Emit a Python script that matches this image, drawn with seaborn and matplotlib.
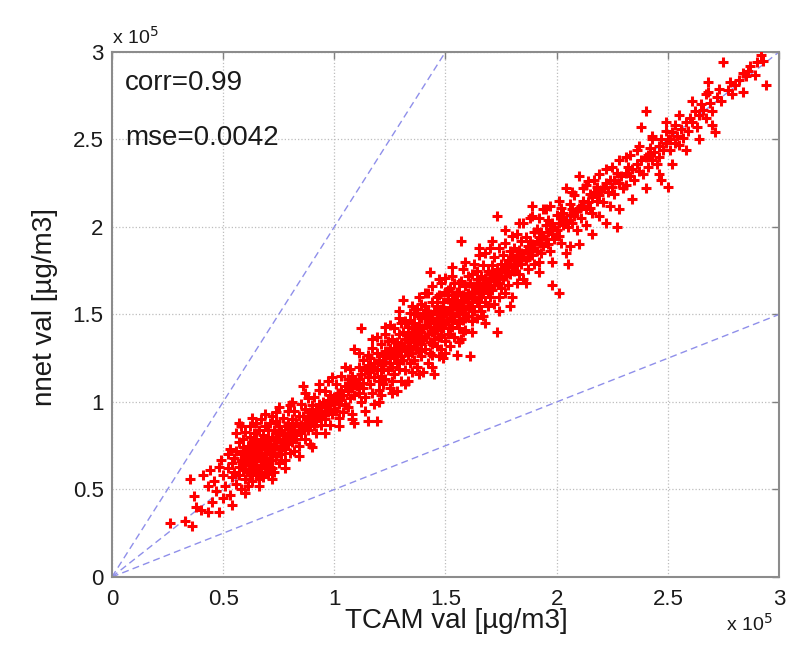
import matplotlib
matplotlib.use("Agg")
import matplotlib.pyplot as plt
import seaborn as sns
import pandas as pd
from matplotlib.ticker import FuncFormatter

# ---- data (values in units of 1e5 ug/m3) ----
seg_a = [(0.26,0.31),(0.33,0.32),(0.36,0.29),(0.35,0.56),(0.37,0.46),(0.38,0.40),(0.40,0.38),
         (0.41,0.58),(0.43,0.37),(0.43,0.52),(0.44,0.61),(0.45,0.43),(0.46,0.55),(0.47,0.49),
         (0.48,0.37),(0.48,0.63),(0.49,0.67),(0.50,0.45),(0.50,0.58),(0.51,0.52),(0.52,0.62),
         (0.52,0.70),(0.53,0.47),(0.53,0.73),(0.54,0.41),(0.54,0.57),(0.54,0.65)]
seg_b = [(0.55,0.60),(0.55,0.68),(0.56,0.82),(0.56,0.53),(0.56,0.72),(0.57,0.63),(0.57,0.77),
         (0.57,0.58),(0.58,0.66),(0.58,0.70),(0.58,0.50),(0.58,0.86),(0.59,0.61),(0.59,0.74),
         (0.59,0.79),(0.59,0.67),(0.60,0.56),(0.60,0.71),(0.60,0.64),(0.60,0.83),
         (0.61,0.60),(0.61,0.68),(0.61,0.75),(0.61,0.52),(0.62,0.65),(0.62,0.72),(0.62,0.80),
         (0.62,0.58),(0.62,0.86),(0.63,0.63),(0.63,0.69),(0.63,0.77),(0.63,0.55),(0.63,0.73),
         (0.64,0.61),(0.64,0.67),(0.64,0.82),(0.64,0.70),(0.64,0.76),(0.65,0.58),(0.65,0.64),
         (0.65,0.88),(0.65,0.72),(0.65,0.79),(0.65,0.68),
         (0.66,0.62),(0.66,0.70),(0.66,0.75),(0.66,0.84),(0.66,0.56),(0.67,0.66),(0.67,0.73),
         (0.67,0.90),(0.67,0.60),(0.67,0.78),(0.68,0.69),(0.68,0.64),(0.68,0.81),(0.68,0.75),
         (0.68,0.57),(0.69,0.71),(0.69,0.67),(0.69,0.86),(0.69,0.62),(0.69,0.77),(0.70,0.73),
         (0.70,0.80),(0.70,0.66),(0.70,0.59),(0.70,0.84)]
seg_c = [(0.71,0.70),(0.71,0.76),(0.71,0.63),(0.71,0.88),(0.72,0.74),(0.72,0.80),(0.72,0.67),
         (0.72,0.92),(0.73,0.71),(0.73,0.78),(0.73,0.84),(0.73,0.60),(0.74,0.75),(0.74,0.69),
         (0.74,0.82),(0.74,0.89),(0.75,0.73),(0.75,0.79),(0.75,0.65),(0.75,0.86),(0.72,0.62),
         (0.74,0.94),
         (0.76,0.77),(0.76,0.84),(0.76,0.70),(0.77,0.81),(0.77,0.74),(0.77,0.91),(0.78,0.79),
         (0.78,0.86),(0.78,0.67),(0.78,0.73),(0.79,0.82),(0.79,0.76),(0.79,0.95),(0.79,0.88),
         (0.80,0.80),(0.80,0.71),(0.80,0.85),(0.80,0.98),
         (0.81,0.83),(0.81,0.77),(0.81,0.90),(0.82,0.86),(0.82,0.72),(0.82,0.95),(0.83,0.81),
         (0.83,0.88),(0.83,0.79),(0.84,0.92),(0.84,0.84),(0.84,0.75),(0.85,0.87),(0.85,0.99),
         (0.85,0.82),
         (0.86,0.85),(0.86,0.92),(0.86,1.09),(0.87,0.88),(0.87,0.79),(0.87,0.96),(0.88,0.91),
         (0.88,0.84),(0.88,1.02),(0.89,0.87),(0.89,0.94),(0.89,0.76),(0.90,0.90),(0.90,0.98),
         (0.91,0.93),(0.91,0.86),(0.91,1.03),(0.92,0.96),(0.92,0.89),(0.92,0.82),(0.93,0.99),
         (0.93,0.92),(0.93,1.07),(0.94,0.95),(0.94,0.87),(0.95,1.00),(0.95,0.93),
         (0.96,0.97),(0.96,0.90),(0.96,1.06),(0.97,1.01),(0.97,0.94),(0.97,1.12),(0.98,0.98),
         (0.98,0.87),(0.98,1.04),(0.99,1.00),(0.99,0.93),(1.00,1.03),(1.00,0.96)]
seg_d = [(1.01,1.02),(1.01,0.95),(1.01,1.10),(1.02,1.05),(1.02,0.91),(1.02,0.99),(1.03,1.07),
         (1.03,1.15),(1.03,1.01),(1.04,1.04),(1.04,0.94),(1.05,1.09),(1.05,0.98),
         (1.06,1.06),(1.06,1.13),(1.06,0.97),(1.07,1.10),(1.07,1.02),(1.07,1.19),(1.08,1.08),
         (1.08,0.93),(1.08,1.15),(1.09,1.04),(1.09,1.12),(1.09,0.88),(1.09,1.30),(1.10,1.09),
         (1.11,1.13),(1.11,1.05),(1.11,1.20),(1.12,1.16),(1.12,1.42),(1.12,1.00),(1.13,1.11),
         (1.13,1.24),(1.13,1.08),(1.14,1.18),(1.14,1.03),(1.15,1.14),(1.15,0.89),(1.15,1.27),
         (1.15,1.21),
         (1.16,1.17),(1.16,1.10),(1.16,1.25),(1.17,1.20),(1.17,1.05),(1.17,1.31),(1.18,1.14),
         (1.18,1.22),(1.18,0.99),(1.19,1.18),(1.19,0.89),(1.19,1.28),(1.19,1.37),(1.20,1.12),
         (1.20,1.24),(1.20,1.07),
         (1.21,1.21),(1.21,1.15),(1.21,1.33),(1.21,1.04),(1.22,1.26),(1.22,1.19),(1.22,1.10),
         (1.23,1.29),(1.23,1.23),(1.23,1.39),(1.23,1.13),(1.24,1.27),(1.24,1.18),(1.24,1.35),
         (1.25,1.22),(1.25,1.08),(1.25,1.31),(1.25,1.44),
         (1.26,1.28),(1.26,1.20),(1.26,1.36),(1.26,1.12),(1.27,1.31),(1.27,1.25),(1.27,1.42),
         (1.27,1.16),(1.28,1.34),(1.28,1.27),(1.28,1.06),(1.28,1.22),(1.29,1.30),(1.29,1.39),
         (1.29,1.48),(1.29,1.19),(1.30,1.33),(1.30,1.26),(1.30,1.12),(1.30,1.45),
         (1.31,1.32),(1.31,1.24),(1.31,1.40),(1.31,1.58),(1.32,1.36),(1.32,1.29),(1.32,1.18),
         (1.32,1.46),(1.33,1.34),(1.33,1.27),(1.33,1.43),(1.33,1.12),(1.34,1.38),(1.34,1.31),
         (1.34,1.22),(1.34,1.51),(1.35,1.36),(1.35,1.42),(1.35,1.28),(1.35,1.17),(1.33,1.39),
         (1.34,1.47),
         (1.36,1.39),(1.36,1.32),(1.36,1.45),(1.36,1.24),(1.37,1.41),(1.37,1.35),(1.37,1.53),
         (1.37,1.20),(1.38,1.37),(1.38,1.44),(1.38,1.29),(1.38,1.60),(1.39,1.40),(1.39,1.33),
         (1.39,1.48),(1.39,1.26),(1.40,1.42),(1.40,1.36),(1.40,1.51),(1.40,1.17),(1.37,1.30),
         (1.38,1.49),(1.39,1.56),(1.36,1.50)]
seg_e = [(1.41,1.44),(1.41,1.37),(1.41,1.30),(1.41,1.55),(1.42,1.46),(1.42,1.39),(1.42,1.22),
         (1.42,1.62),(1.43,1.43),(1.43,1.50),(1.43,1.34),(1.43,1.74),(1.44,1.47),(1.44,1.40),
         (1.44,1.27),(1.44,1.57),(1.45,1.45),(1.45,1.52),(1.45,1.36),(1.45,1.16),(1.42,1.52),
         (1.43,1.28),(1.44,1.66),(1.45,1.41),(1.41,1.49),(1.44,1.33),
         (1.46,1.48),(1.46,1.41),(1.46,1.55),(1.46,1.32),(1.47,1.50),(1.47,1.44),(1.47,1.61),
         (1.47,1.26),(1.48,1.47),(1.48,1.53),(1.48,1.38),(1.48,1.68),(1.49,1.49),(1.49,1.42),
         (1.49,1.57),(1.49,1.25),(1.50,1.51),(1.50,1.45),(1.50,1.35),(1.50,1.63),(1.46,1.60),
         (1.47,1.37),(1.48,1.43),(1.49,1.54),(1.50,1.71),(1.48,1.30),
         (1.51,1.52),(1.51,1.46),(1.51,1.59),(1.51,1.39),(1.52,1.54),(1.52,1.48),(1.52,1.65),
         (1.52,1.32),(1.53,1.51),(1.53,1.57),(1.53,1.43),(1.53,1.72),(1.54,1.55),(1.54,1.49),
         (1.54,1.61),(1.54,1.37),(1.55,1.53),(1.55,1.58),(1.55,1.45),(1.55,1.27),(1.51,1.64),
         (1.52,1.42),(1.53,1.47),(1.54,1.68),(1.55,1.63),(1.53,1.61),
         (1.56,1.56),(1.56,1.50),(1.56,1.63),(1.56,1.42),(1.57,1.58),(1.57,1.52),(1.57,1.69),
         (1.57,1.36),(1.58,1.55),(1.58,1.61),(1.58,1.47),(1.58,1.76),(1.59,1.59),(1.59,1.53),
         (1.59,1.66),(1.59,1.41),(1.60,1.57),(1.60,1.62),(1.60,1.49),(1.60,1.72),(1.57,1.92),
         (1.56,1.68),(1.58,1.40),(1.59,1.48),
         (1.61,1.61),(1.61,1.55),(1.61,1.68),(1.61,1.26),(1.62,1.63),(1.62,1.57),(1.62,1.73),
         (1.62,1.46),(1.63,1.60),(1.63,1.66),(1.63,1.52),(1.63,1.79),(1.64,1.64),(1.64,1.58),
         (1.64,1.70),(1.64,1.48),(1.65,1.62),(1.65,1.67),(1.65,1.55),(1.65,1.84),(1.62,1.52),
         (1.64,1.75),
         (1.66,1.66),(1.66,1.60),(1.66,1.72),(1.66,1.52),(1.67,1.68),(1.67,1.62),(1.67,1.78),
         (1.67,1.49),(1.68,1.65),(1.68,1.71),(1.68,1.57),(1.68,1.85),(1.69,1.69),(1.69,1.63),
         (1.69,1.75),(1.69,1.55),(1.70,1.67),(1.70,1.73),(1.70,1.60),(1.70,1.88),
         (1.71,1.71),(1.71,1.64),(1.71,1.78),(1.72,1.73),(1.72,1.67),(1.72,1.83),(1.72,1.56),
         (1.73,1.70),(1.73,1.76),(1.73,1.40),(1.73,2.06),(1.74,1.74),(1.74,1.68),(1.74,1.88),
         (1.74,1.60),(1.75,1.72),(1.75,1.79),(1.75,1.65),
         (1.76,1.76),(1.76,1.70),(1.76,1.84),(1.77,1.78),(1.77,1.72),(1.77,1.62),(1.77,1.91),
         (1.78,1.75),(1.78,1.81),(1.78,1.67),(1.79,1.79),(1.79,1.86),(1.79,1.73),(1.79,1.55),
         (1.80,1.77),(1.80,1.83),(1.80,1.95)]
seg_f = [(1.81,1.81),(1.81,1.75),(1.81,1.88),(1.82,1.84),(1.82,1.78),(1.82,1.68),(1.82,1.96),
         (1.83,1.82),(1.83,1.87),(1.83,1.73),(1.84,1.85),(1.84,1.92),(1.84,1.79),(1.85,1.83),
         (1.85,2.02),(1.85,1.70),
         (1.86,1.87),(1.86,1.81),(1.86,1.94),(1.87,1.89),(1.87,1.83),(1.87,1.76),(1.88,1.86),
         (1.88,1.92),(1.88,2.05),(1.89,1.90),(1.89,1.84),(1.89,2.12),(1.90,1.88),(1.90,1.97),
         (1.90,1.79),
         (1.91,1.92),(1.91,1.86),(1.91,1.99),(1.92,1.94),(1.92,1.80),(1.92,2.05),(1.93,1.91),
         (1.93,1.97),(1.93,1.85),(1.94,1.95),(1.94,2.10),(1.94,1.89),(1.95,1.93),(1.95,2.01),
         (1.96,1.97),(1.96,1.90),(1.96,2.04),(1.97,1.99),(1.97,1.86),(1.97,2.12),(1.98,1.96),
         (1.98,1.67),(1.98,2.02),(1.99,2.00),(1.99,1.93),(2.00,1.98),(2.00,2.07),
         (2.01,2.02),(2.01,1.62),(2.01,1.95),(2.02,2.05),(2.02,2.11),(2.02,1.91),(2.03,2.01),
         (2.03,2.08),(2.04,2.04),(2.04,2.22),(2.05,1.79),(2.05,2.00),
         (2.06,2.07),(2.06,1.89),(2.06,2.13),(2.07,2.10),(2.07,2.02),(2.08,2.06),(2.08,2.18),
         (2.09,2.09),(2.09,1.98),(2.10,2.29),(2.10,2.11),
         (2.11,2.12),(2.11,2.05),(2.12,2.15),(2.12,2.22),(2.13,2.10),(2.13,2.01),(2.14,2.14),
         (2.14,2.26),(2.15,2.11),(2.15,2.19),
         (2.16,2.17),(2.16,2.08),(2.17,2.20),(2.17,2.27),(2.18,2.15),(2.18,2.23),(2.19,2.18),
         (2.19,2.06),(2.20,2.21),
         (2.21,2.22),(2.21,2.14),(2.22,2.25),(2.22,2.33),(2.23,2.20),(2.24,2.27),(2.24,2.12),
         (2.25,2.23),
         (2.26,2.27),(2.26,2.19),(2.27,2.00),(2.27,2.31),(2.28,2.25),(2.28,2.38),(2.29,2.29),
         (2.30,2.22)]
seg_g = [(2.31,2.31),(2.31,2.24),(2.32,2.34),(2.33,2.29),(2.33,2.41),(2.34,2.33),(2.35,2.27),
         (2.36,2.36),(2.36,2.44),(2.37,2.32),(2.38,2.57),(2.38,2.38),(2.39,2.30),(2.40,2.66),
         (2.40,2.40),
         (2.41,2.41),(2.41,2.34),(2.42,2.45),(2.43,2.38),(2.43,2.50),(2.44,2.43),(2.45,2.36),
         (2.46,2.46),(2.46,2.40),(2.47,2.27),(2.47,2.50),(2.48,2.44),(2.49,2.55),(2.49,2.48),
         (2.50,2.23),(2.50,2.50),
         (2.51,2.50),(2.51,2.44),(2.52,2.54),(2.53,2.48),(2.53,2.58),(2.54,2.52),(2.55,2.47),
         (2.56,2.56),(2.57,2.51),(2.58,2.60),(2.59,2.55),(2.60,2.62),
         (2.61,2.60),(2.62,2.66),(2.63,2.57),(2.64,2.64),(2.65,2.70),
         (2.66,2.67),(2.67,2.62),(2.68,2.77),(2.68,2.83),(2.69,2.71),(2.70,2.66),
         (2.71,2.54),(2.72,2.74),(2.73,2.79),(2.74,2.72),(2.75,2.94),
         (2.77,2.78),(2.78,2.83),(2.79,2.76),(2.80,2.81),
         (2.82,2.84),(2.84,2.77),(2.84,2.88),(2.85,2.86),
         (2.86,2.89),(2.87,2.92),(2.89,2.87),(2.90,2.94),
         (2.92,2.98),(2.93,2.95),(2.94,2.81)]
seg_h = [(0.57,0.88),(0.60,0.48),(0.63,0.91),(0.66,0.52),(0.69,0.93),(0.72,0.56),(0.75,0.97),
         (0.78,0.62),(0.81,1.00),(0.84,0.69),(0.87,1.05),(0.90,0.74),(0.93,1.10),(0.96,0.82),
         (0.99,1.14),(1.02,0.86),(1.05,1.20),(1.08,0.90),(1.11,1.28),(1.14,0.95),(1.17,1.36),
         (1.20,1.00),(1.23,1.43),(1.26,1.05),(1.29,1.52),(1.32,1.10),(1.35,1.55),(1.38,1.16),
         (1.41,1.62),(1.44,1.20),(1.47,1.70),(1.50,1.28),(1.53,1.77),(1.56,1.34),(1.59,1.80),
         (1.62,1.40),(1.65,1.88),(1.68,1.45),(1.71,1.92),(1.74,1.52),(1.77,1.98),(1.80,1.60),
         (1.83,2.02),(1.86,1.68),(1.89,2.06),(1.92,1.74),(1.95,2.10),(1.98,1.80),(2.01,2.15),
         (2.04,1.85),(2.07,2.20),(2.10,1.90),(2.13,2.24),(2.16,1.96),(2.19,2.30),(2.22,2.02),
         (2.25,2.34),(2.28,2.10),(2.31,2.40),(2.34,2.16),(2.37,2.46),(2.40,2.22),(2.43,2.52),
         (2.46,2.30),(2.49,2.60),(2.52,2.36),(2.55,2.64),(2.58,2.44),(2.61,2.72),(2.64,2.50),
         (2.67,2.76),(2.70,2.58)]

ref_slopes = [2.0, 1.0, 0.5]
stats_labels = ["corr=0.99", "mse=0.0042"]
tick_values = [0, 0.5, 1, 1.5, 2, 2.5, 3]
x_label = "TCAM val [\u00b5g/m3]"
y_label = "nnet val [\u00b5g/m3]"
SCALE = 1e5

df = pd.DataFrame(seg_a + seg_b + seg_c + seg_d + seg_e + seg_f + seg_g + seg_h,
                  columns=["tcam", "nnet"]) * SCALE

sns.set_style("white")
plt.rcParams["font.family"] = ["Liberation Sans", "DejaVu Sans"]

fig = plt.figure(figsize=(7.88, 6.48), dpi=100)
ax = fig.add_axes([0.142, 0.1096, 0.8466, 0.8102])

for s in ref_slopes:
    ax.axline((0, 0), slope=s, color="#8f8fea", linestyle=(0, (5, 3)), linewidth=1.0, zorder=2)

sns.scatterplot(data=df, x="tcam", y="nnet", marker="+", color="#ff0000",
                s=58, linewidth=2.2, ax=ax, zorder=3, legend=False)

ax.set_xlim(0, 3 * SCALE)
ax.set_ylim(0, 3 * SCALE)
ticks = [v * SCALE for v in tick_values]
ax.set_xticks(ticks)
ax.set_yticks(ticks)
fmt = FuncFormatter(lambda v, _: f"{v / SCALE:g}")
ax.xaxis.set_major_formatter(fmt)
ax.yaxis.set_major_formatter(fmt)
ax.tick_params(direction="in", length=5, width=1, color="#808080",
               top=True, right=True, labelsize=16, labelcolor="#1a1a1a")
ax.tick_params(axis="x", pad=9)
ax.tick_params(axis="y", pad=6)
ax.grid(True, linestyle=":", color="#bdbdbd", linewidth=0.9)
for sp in ax.spines.values():
    sp.set_color("#8c8c8c")
    sp.set_linewidth(1.5)

ax.set_xlabel(x_label, fontsize=20, color="#1a1a1a")
ax.xaxis.set_label_coords(0.516, -0.06, transform=ax.transAxes)
ax.xaxis.label.set_va("top")
ax.set_ylabel(y_label, fontsize=20, color="#1a1a1a")
ax.yaxis.set_label_coords(-0.081, 0.515, transform=ax.transAxes)

ax.text(0.06 * SCALE, 2.82 * SCALE, stats_labels[0], fontsize=20, va="center", ha="left", color="#1a1a1a")
ax.text(0.06 * SCALE, 2.51 * SCALE, stats_labels[1], fontsize=20, va="center", ha="left", color="#1a1a1a")

ax.text(0.0, 1.008, "x 10$^5$", transform=ax.transAxes, fontsize=14, ha="left", va="bottom", color="#1a1a1a")
ax.text(0.99, -0.068, "x 10$^5$", transform=ax.transAxes, fontsize=14, ha="right", va="top", color="#1a1a1a")

fig.savefig("out.png", dpi=100)
